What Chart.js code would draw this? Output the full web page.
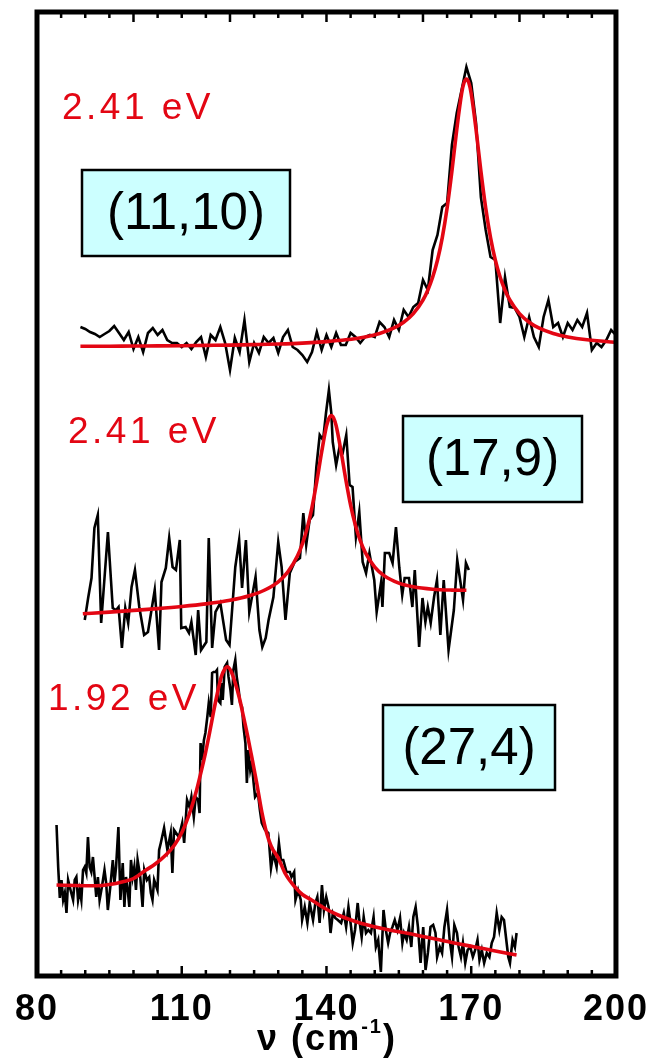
<!DOCTYPE html>
<html>
<head>
<meta charset="utf-8">
<script src="https://cdn.jsdelivr.net/npm/chart.js@4/dist/chart.umd.min.js"></script>
<style>
  html, body { margin: 0; padding: 0; background: #fff; }
  canvas { display: block; }
</style>
</head>
<body>
<canvas id="ramanChart" width="650" height="1062"></canvas>
<script>
// (11,10) tube, 2.41 eV - raman shift (cm-1) and intensity (arb. units, offset)
var nu1 = [89, 90, 91, 92, 93, 94, 95, 96, 97, 98, 99, 100, 101, 102, 103, 104, 105, 106, 107, 108, 109,
    110, 111, 112, 113, 114, 115, 116, 117, 118, 119, 120, 121, 122, 123, 124, 125, 126, 127, 128, 129,
    130, 131, 132, 133, 134, 135, 136, 137, 138, 139, 140, 141, 142, 143, 144, 145, 146, 147, 148, 149,
    150, 151, 152, 153, 154, 155, 156, 157, 158, 159, 160, 161, 162, 163, 164, 165, 166, 167, 168, 169,
    170, 171, 172, 173, 174, 175, 176, 177, 178, 179, 180, 181, 182, 183, 184, 185, 186, 187, 188, 189,
    190, 191, 192, 193, 194, 195, 196, 197, 198, 199, 200];
var int1 = [648, 646, 643, 641, 638, 641, 644, 649, 642, 635, 643, 626, 638, 623, 642, 647, 640, 645, 635, 632, 632,
    628, 632, 626, 633, 638, 618, 640, 635, 648, 632, 605, 637, 623, 655, 613, 632, 622, 638, 632, 637,
    622, 638, 645, 628, 625, 620, 613, 623, 643, 625, 640, 628, 642, 630, 630, 642, 638, 632, 638, 640,
    638, 653, 648, 638, 655, 645, 665, 658, 668, 672, 695, 685, 725, 740, 768, 772, 830, 862, 885, 908,
    892, 852, 778, 745, 718, 715, 652, 698, 668, 667, 658, 638, 658, 638, 628, 658, 675, 648, 652, 638,
    652, 645, 655, 648, 662, 625, 632, 628, 635, 645, 640];
var fitNu1 = [89, 95, 100, 105, 110, 115, 120, 125, 130, 135, 140, 144, 148, 151, 154, 156, 158, 160, 161, 162,
    163, 164, 165, 166, 167, 168, 168.5, 169, 169.5, 170, 171, 172, 173, 174, 175, 176, 177, 178, 180, 182,
    184, 187, 190, 194, 199, 200];
var fit1 = [628.7, 628.8, 629.0, 629.1, 629.3, 629.6, 629.9, 630.4, 631.0, 631.9, 633.4, 635.2, 638.1, 641.5, 647.1, 652.8, 661.4, 675.0, 684.8, 697.7,
    714.7, 737.3, 766.9, 804.0, 845.5, 881.3, 892.2, 896.0, 892.2, 881.3, 845.5, 804.0, 766.9, 737.3, 714.7, 697.7, 684.8, 675.0, 661.4, 652.8,
    647.1, 641.5, 638.1, 635.2, 633.0, 632.7];

// (17,9) tube, 2.41 eV
var nu2 = [89.9, 90.6, 91.3, 91.9, 92.6, 93.3, 94.7, 95.7, 96.4, 96.9, 97.6, 98.3, 98.9, 99.6, 100.3, 101.2, 102.2, 103.0,
    104.4, 105.3, 105.8, 106.7, 107.4, 108.1, 108.8, 109.6, 109.9, 110.8, 111.5, 112.0, 112.9, 113.4, 114.0, 115.1, 115.6,
    116.3, 117.0, 118.0, 119.2, 119.9, 121.1, 121.9, 122.5, 123.3, 124.0, 125.3, 126.1, 126.7, 127.4, 128.0, 129.0, 130.0,
    130.7, 131.5, 132.4, 133.4, 134.5, 135.2, 135.8, 136.5, 137.2, 137.9, 138.6, 139.3, 139.9, 140.5, 141.0, 141.3, 142.0,
    142.7, 143.4, 144.1, 144.8, 145.4, 146.1, 146.8, 147.5, 148.2, 148.9, 149.9, 150.4, 151.3, 151.6, 152.1, 153.0, 153.7,
    154.4, 155.1, 155.7, 156.2, 157.1, 157.8, 158.3, 159.2, 159.9, 160.5, 161.0, 161.6, 162.3, 162.9, 163.6, 164.3, 165.3,
    166.4, 167.1, 167.7, 168.3, 168.9, 169.5];
var int2 = [355, 377, 397, 447, 460, 352, 443, 367, 365, 368, 327, 367, 352, 388, 405, 368, 340, 343,
    385, 325, 393, 407, 437, 408, 405, 435, 347, 348, 342, 353, 320, 365, 325, 333, 437,
    327, 363, 372, 335, 330, 408, 435, 387, 435, 363, 398, 345, 328, 337, 355, 378, 433,
    408, 355, 402, 413, 417, 462, 430, 455, 460, 508, 540, 535, 562, 585, 562, 533, 510,
    528, 523, 540, 490, 488, 438, 463, 413, 402, 422, 395, 363, 392, 368, 422, 422, 412,
    448, 407, 380, 397, 397, 368, 405, 328, 377, 353, 368, 352, 378, 395, 340, 395, 325,
    365, 415, 395, 375, 412, 405];
var fitNu2 = [89.5, 95, 100, 105, 110, 115, 120, 124, 127, 130, 132, 134, 135, 136, 137, 138, 139, 140, 140.5, 141,
    141.5, 142, 143, 144, 145, 146, 147, 148, 150, 152, 155, 158, 162, 166, 169];
var fit2 = [361.2, 362.9, 364.6, 366.4, 368.5, 371.1, 374.7, 379.2, 384.5, 393.2, 403.1, 419.2, 431.1, 446.9, 467.7, 493.9, 523.1, 548.8, 556.6, 559.5,
    556.8, 549.3, 524.2, 495.5, 469.8, 449.6, 434.3, 422.9, 407.9, 399.1, 391.9, 388.2, 385.8, 384.9, 384.7];

// (27,4) tube, 1.92 eV
var nu3 = [84.05, 84.39, 84.73, 85.08, 85.42, 85.76, 86.11, 86.45, 86.79, 87.48, 87.82, 88.16, 88.51, 88.85, 89.19, 89.54,
    89.88, 90.22, 90.56, 90.91, 91.25, 91.59, 91.94, 92.28, 92.62, 92.97, 93.45, 93.99, 94.34, 94.68, 95.23, 95.71, 96.05,
    96.39, 96.87, 97.29, 97.77, 98.11, 98.45, 98.80, 99.14, 99.48, 99.83, 100.17, 100.51, 100.85, 101.40, 101.88, 102.23,
    102.77, 103.25, 103.60, 103.94, 104.28, 104.97, 105.31, 105.66, 106.34, 107.03, 107.71, 108.06, 108.4, 109.4, 110.1,
    110.5, 111.1, 111.6, 112.0, 112.5, 112.9, 113.4, 113.7, 113.9, 114.2, 114.6, 114.9, 115.3, 115.6, 116.0, 116.3, 116.6,
    117.0, 117.3, 117.5, 118.0, 118.2, 118.5, 118.9, 119.4, 119.7, 120.1, 120.4, 120.7, 121.1, 121.4, 121.8, 122.1, 122.5,
    122.8, 123.2, 123.5, 123.8, 124.2, 124.5, 124.9, 125.2, 125.8, 126.2, 126.58, 127.26, 127.95, 128.5, 128.98, 129.66,
    130.14, 130.55, 131.04, 131.72, 132.41, 132.75, 133.30, 133.57, 134.12, 134.67, 134.95, 135.49, 136.04, 136.52, 137.21,
    137.69, 138.10, 138.58, 139.06, 139.47, 139.95, 140.43, 140.84, 141.32, 141.81, 142.35, 143.04, 143.59, 144.07, 144.55,
    145.10, 145.44, 145.92, 146.47, 146.81, 147.29, 147.71, 148.19, 148.67, 149.21, 149.76, 150.24, 150.72, 151.27, 151.82,
    152.30, 152.78, 153.19, 153.67, 154.15, 154.70, 155.25, 155.73, 156.07, 156.62, 157.10, 157.58, 158.00, 158.48, 158.96,
    159.50, 160.05, 160.53, 161.01, 161.56, 162.11, 162.59, 162.93, 163.48, 163.96, 164.44, 164.99, 165.54, 166.02, 166.50,
    167.05, 167.39, 167.87, 168.28, 168.76, 169.25, 169.79, 170.34, 170.82, 171.30, 171.71, 172.19, 172.68, 173.22, 173.77,
    174.25, 174.73, 175.28, 175.83, 176.31, 176.79, 177.34, 177.68, 178.03, 178.57, 179.05, 179.40];
var int3 = [150, 108, 77, 95, 75, 82, 62, 95, 88, 75, 95, 98, 75, 85, 75, 105,
    108, 102, 138, 108, 103, 118, 98, 78, 98, 75, 88, 105, 92, 65, 90, 115, 92,
    108, 148, 75, 112, 68, 98, 85, 68, 115, 98, 108, 85, 115, 98, 68, 105,
    95, 98, 82, 75, 95, 85, 125, 132, 147, 125, 142, 102, 145, 138, 152,
    132, 175, 168, 178, 158, 178, 175, 162, 232, 215, 235, 242, 258, 272, 258, 302, 303,
    303, 305, 275, 272, 292, 275, 308, 312, 298, 285, 270, 305, 315, 298, 285, 272, 268,
    248, 232, 192, 225, 205, 212, 192, 178, 182, 165, 152, 145, 142, 107, 122, 108,
    132, 115, 115, 103, 103, 98, 103, 75, 85, 75, 55, 68, 52, 72, 55,
    72, 78, 52, 90, 65, 78, 68, 42, 62, 57, 55, 52, 62, 48, 68,
    48, 32, 45, 72, 55, 38, 58, 42, 45, 42, 58, 28, 35, 3, 65,
    45, 32, 42, 48, 55, 45, 57, 32, 42, 35, 48, 28, 58, 68, 48,
    12, 48, 5, 22, 48, 50, 42, 18, 28, 22, 48, 65, 35, 18, 50,
    42, 28, 18, 32, 12, 25, 28, 18, 25, 35, 15, 25, 12, 22, 18,
    32, 38, 62, 45, 58, 55, 32, 18, 12, 35, 28, 42];
var fitNu3 = [84.05, 88, 92.3, 95, 97.8, 100, 102.6, 104.5, 106.7, 108.5, 110.1, 111.5, 112.9, 114, 114.9, 115.8, 116.6,
    117.4, 118.2, 118.8, 119.4, 120.2, 121.1, 122, 122.8, 123.7, 124.5, 125.5, 126.6, 127.6, 128.6, 130, 131.5, 133.4,
    135, 136.9, 139.5, 142.4, 146, 149.9, 153, 156.8, 160, 163.6, 167, 170.5, 175, 179.4];
var fit3 = [90, 89.5, 89.3, 90.5, 93.3, 96.5, 105, 111, 120, 130, 143.3, 160, 181.7, 203, 221.7, 243, 263.3,
    282, 298.3, 305, 308.3, 304, 291.7, 276, 258.3, 238, 218.3, 193, 163, 142, 128, 117, 101, 88.3,
    80.5, 75, 67, 60, 53.5, 48.3, 45, 41.7, 38.5, 35, 31.5, 28.3, 24, 20];

var xTicks = [80, 110, 140, 170, 200];

function pts(xs, ys) {
    return xs.map(function(x, i) { return { x: x, y: ys[i] }; });
}

var RED = '#e30613';

var labels = [
    { text: '2.41 eV', x: 62, y: 119 },
    { text: '2.41 eV', x: 68, y: 443 },
    { text: '1.92 eV', x: 48, y: 710 }
];
var boxes = [
    { text: '(11,10)', x: 82, y: 170, w: 208, h: 86 },
    { text: '(17,9)', x: 403, y: 416, w: 179, h: 86 },
    { text: '(27,4)', x: 383, y: 705, w: 172, h: 85 }
];

var framePlugin = {
    id: 'frame',
    beforeDraw: function(chart) {
        chart.ctx.letterSpacing = '2px';
    },
    afterDraw: function(chart) {
        var ctx = chart.ctx;
        var a = chart.chartArea;
        var xs = chart.scales.x;
        ctx.save();
        ctx.letterSpacing = '0px';
        ctx.strokeStyle = '#000';
        ctx.lineWidth = 5;
        ctx.strokeRect(a.left, a.top, a.right - a.left, a.bottom - a.top);
        ctx.lineWidth = 2.5;
        for (var v = 85; v < 200; v += 5) {
            var px = xs.getPixelForValue(v);
            var bl = (v - 80) % 30 === 0 ? 10 : 6;
            var tl = (v % 20 === 0) ? 10 : 6;
            ctx.beginPath();
            ctx.moveTo(px, a.bottom);
            ctx.lineTo(px, a.bottom - bl);
            ctx.moveTo(px, a.top);
            ctx.lineTo(px, a.top + tl);
            ctx.stroke();
        }

        // energy labels
        ctx.fillStyle = RED;
        ctx.font = '37px "Liberation Sans", Arial, sans-serif';
        ctx.letterSpacing = '3.5px';
        ctx.textAlign = 'left';
        ctx.textBaseline = 'alphabetic';
        labels.forEach(function(l) { ctx.fillText(l.text, l.x, l.y); });

        // chirality boxes
        ctx.letterSpacing = '0px';
        ctx.font = '51px "Liberation Sans", Arial, sans-serif';
        ctx.textAlign = 'center';
        ctx.textBaseline = 'middle';
        boxes.forEach(function(b) {
            ctx.fillStyle = '#ccffff';
            ctx.fillRect(b.x, b.y, b.w, b.h);
            ctx.lineWidth = 2.5;
            ctx.strokeStyle = '#000';
            ctx.strokeRect(b.x, b.y, b.w, b.h);
            ctx.fillStyle = '#000';
            ctx.fillText(b.text, b.x + b.w / 2, b.y + b.h / 2 + 2);
        });

        // axis title with superscript
        ctx.textBaseline = 'alphabetic';
        ctx.textAlign = 'left';
        ctx.letterSpacing = '2px';
        var main = 'bold 36px "Liberation Sans", Arial, sans-serif';
        var sup = 'bold 20px "Liberation Sans", Arial, sans-serif';
        var p1 = '\u03bd (cm', p2 = '-1', p3 = ')';
        ctx.font = main;
        var w1 = ctx.measureText(p1).width, w3 = ctx.measureText(p3).width;
        ctx.font = sup;
        var w2 = ctx.measureText(p2).width;
        var x0 = 327 - (w1 + w2 + w3) / 2;
        var yb = 1050;
        ctx.fillStyle = '#000';
        ctx.font = main;
        ctx.fillText(p1, x0, yb);
        ctx.font = sup;
        ctx.fillText(p2, x0 + w1, yb - 17);
        ctx.font = main;
        ctx.fillText(p3, x0 + w1 + w2, yb);
        ctx.restore();
    }
};

function noisy(data) {
    return { data: data, borderColor: '#000', borderWidth: 2.6, pointRadius: 0, tension: 0, order: 2 };
}
function fitted(data) {
    return { data: data, borderColor: RED, borderWidth: 3.6, pointRadius: 0, cubicInterpolationMode: 'monotone', order: 1 };
}

var ramanChart = new Chart(document.getElementById('ramanChart'), {
    type: 'line',
    data: {
        datasets: [
            fitted(pts(fitNu1, fit1)),
            fitted(pts(fitNu2, fit2)),
            fitted(pts(fitNu3, fit3)),
            noisy(pts(nu1, int1)),
            noisy(pts(nu2, int2)),
            noisy(pts(nu3, int3))
        ]
    },
    options: {
        responsive: false,
        animation: false,
        layout: { padding: { left: 37, right: 30, top: 12, bottom: 0 } },
        plugins: { legend: { display: false }, tooltip: { enabled: false } },
        scales: {
            x: {
                type: 'linear',
                min: 80,
                max: 200,
                afterBuildTicks: function(scale) {
                    scale.ticks = xTicks.map(function(v) { return { value: v }; });
                },
                afterFit: function(scale) { scale.height = 86; },
                grid: { display: false },
                border: { display: false },
                ticks: {
                    color: '#000',
                    padding: 4,
                    maxRotation: 0,
                    autoSkip: false,
                    font: { family: '"Liberation Sans", Arial, sans-serif', size: 36, weight: 'bold' }
                }
            },
            y: { display: false, min: -1, max: 963 }
        }
    },
    plugins: [framePlugin]
});
</script>
</body>
</html>
